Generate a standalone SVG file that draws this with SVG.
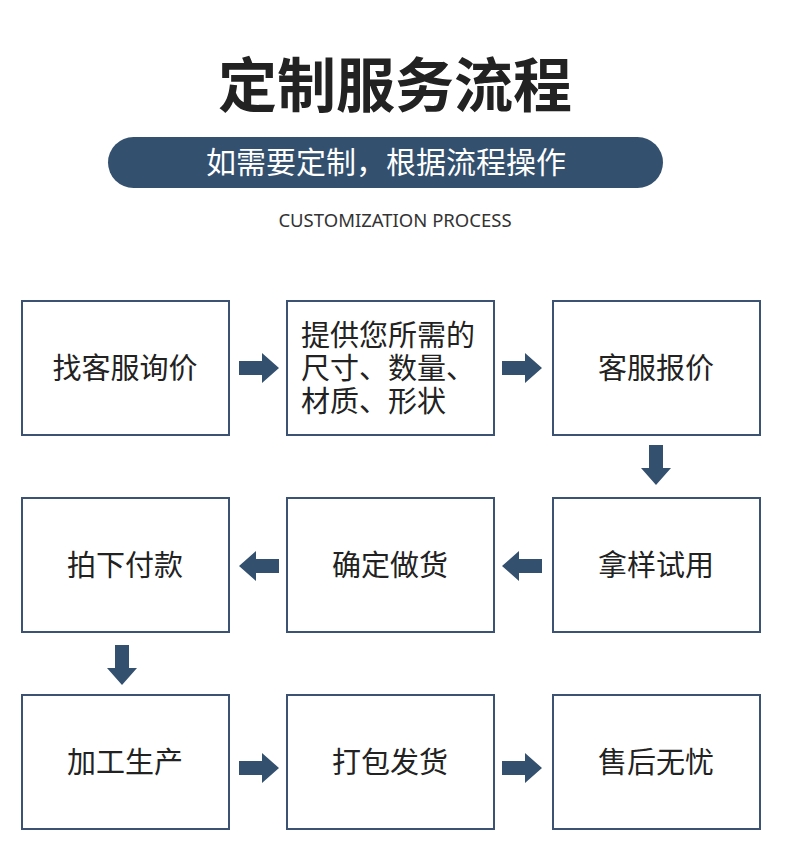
<svg xmlns="http://www.w3.org/2000/svg" width="790" height="858" viewBox="0 0 790 858">
<style>
.box{fill:#fff;stroke:#3b5273;stroke-width:2}
.t{font-family:"Noto Sans CJK SC",sans-serif;font-size:29px;fill:#222;text-anchor:middle}
.tl{font-family:"Noto Sans CJK SC",sans-serif;font-size:29px;fill:#222;text-anchor:start}
.ar{fill:#34506f}
</style>
<defs>
<path id="ar" class="ar" d="M-20,-7 H3 V-15 L20,0 L3,15 V7 H-20 Z"/>
</defs>
<rect width="790" height="858" fill="#fff"/>
<text x="395" y="107" font-family="Noto Sans CJK SC,sans-serif" font-size="59" font-weight="bold" fill="#222" text-anchor="middle">定制服务流程</text>
<rect x="108" y="137" width="555" height="51" rx="25.5" fill="#34506f"/>
<text x="386" y="173" font-family="Noto Sans CJK SC,sans-serif" font-size="30" fill="#fff" text-anchor="middle">如需要定制，根据流程操作</text>
<text x="395" y="227" font-family="Noto Sans,sans-serif" font-size="18.5" fill="#333" text-anchor="middle">CUSTOMIZATION PROCESS</text>
<g id="n1"><rect class="box" x="22" y="301" width="207" height="134"/><text class="t" x="125" y="379">找客服询价</text></g>
<g id="n2"><rect class="box" x="287" y="301" width="207" height="134"/><text class="tl" x="301" y="346">提供您所需的</text><text class="tl" x="301" y="379">尺寸、数量、</text><text class="tl" x="301" y="412">材质、形状</text></g>
<g id="n3"><rect class="box" x="553" y="301" width="207" height="134"/><text class="t" x="656" y="379">客服报价</text></g>
<g id="n4"><rect class="box" x="553" y="498" width="207" height="134"/><text class="t" x="656" y="576">拿样试用</text></g>
<g id="n5"><rect class="box" x="287" y="498" width="207" height="134"/><text class="t" x="390" y="576">确定做货</text></g>
<g id="n6"><rect class="box" x="22" y="498" width="207" height="134"/><text class="t" x="125" y="576">拍下付款</text></g>
<g id="n7"><rect class="box" x="22" y="695" width="207" height="134"/><text class="t" x="125" y="773">加工生产</text></g>
<g id="n8"><rect class="box" x="287" y="695" width="207" height="134"/><text class="t" x="390" y="773">打包发货</text></g>
<g id="n9"><rect class="box" x="553" y="695" width="207" height="134"/><text class="t" x="656" y="773">售后无忧</text></g>
<g id="connectors">
<use href="#ar" transform="translate(259,368)"/>
<use href="#ar" transform="translate(522,368)"/>
<use href="#ar" transform="translate(656,465) rotate(90)"/>
<use href="#ar" transform="translate(522,566) rotate(180)"/>
<use href="#ar" transform="translate(259,566) rotate(180)"/>
<use href="#ar" transform="translate(122,665) rotate(90)"/>
<use href="#ar" transform="translate(259,768)"/>
<use href="#ar" transform="translate(522,768)"/>
</g>
</svg>
